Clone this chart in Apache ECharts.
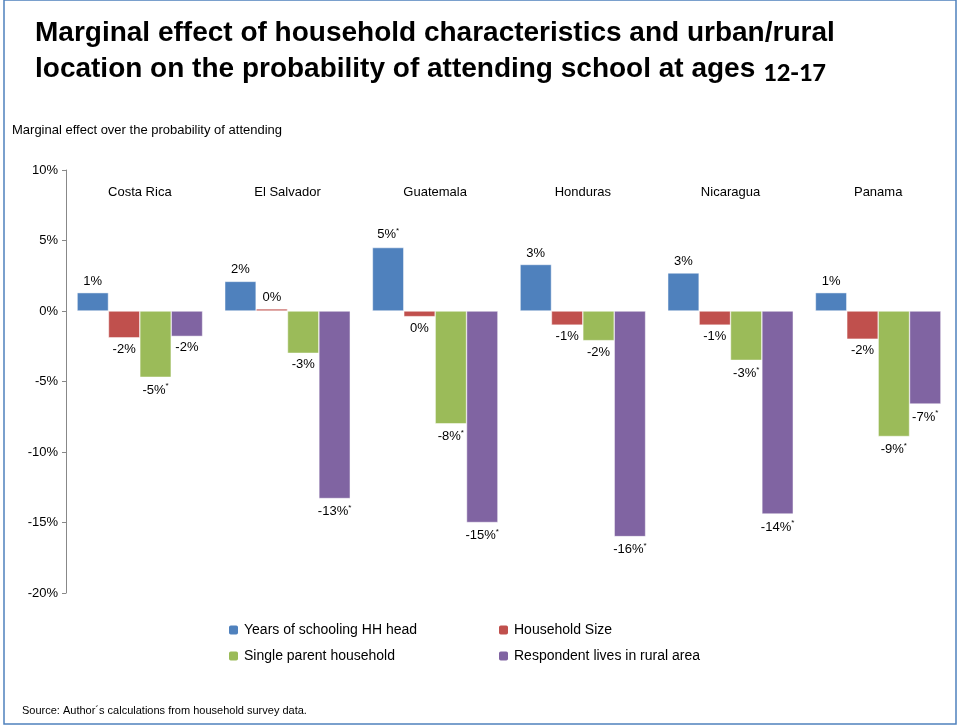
<!DOCTYPE html>
<html><head><meta charset="utf-8">
<script src="https://cdn.jsdelivr.net/npm/echarts@6/dist/echarts.min.js"></script>
<style>html,body{margin:0;padding:0;background:#fff}#c{width:960px;height:725px}</style>
</head><body><div id="c"></div>
<script>
var countries = ['Costa Rica', 'El Salvador', 'Guatemala', 'Honduras', 'Nicaragua', 'Panama'];
var schooling = [1.3, 2.1, 4.5, 3.3, 2.7, 1.3];
var hhSize = [-1.9, 0.15, -0.4, -1.0, -1.0, -2.0];
var singleParent = [-4.7, -3.0, -8.0, -2.1, -3.5, -8.9];
var rural = [-1.8, -13.3, -15.0, -16.0, -14.4, -6.6];
// significance marks shown as small superscript
var sigSchooling = [0, 0, 1, 0, 0, 0];
var sigHh = [0, 0, 0, 0, 0, 0];
var sigSingle = [1, 0, 1, 0, 1, 1];
var sigRural = [0, 1, 1, 1, 1, 1];
var yTicks = [-20, -15, -10, -5, 0, 5, 10];

var myChart = echarts.init(document.getElementById('c'));
var font = 'Arial, "Liberation Sans", sans-serif';

function makeSeries(name, values, sig, color) {
  return {
    name: name,
    type: 'bar',
    barGap: 0,
    barCategoryGap: '15%',
    itemStyle: { color: color, borderColor: '#fff', borderWidth: 0.5 },
    data: values.map(function (v) {
      return { value: v, label: { position: v >= 0 ? 'top' : 'bottom' } };
    }),
    label: {
      show: true,
      fontSize: 13,
      fontFamily: font,
      color: '#000',
      formatter: function (p) {
        var t = Math.round(p.value) + '%';
        if (t === '-0%') t = '0%';
        return sig[p.dataIndex] ? t + '{s|*}' : t;
      },
      rich: { s: { fontSize: 8, verticalAlign: 'top', padding: [0, 0, 8, 0], color: '#000' } }
    }
  };
}

var option = {
  animation: false,
  title: {
    text: 'Marginal effect of household characteristics and urban/rural\nlocation on the probability of attending school at ages {n|12-17}',
    left: 30,
    top: 10,
    textStyle: {
      fontFamily: font,
      fontSize: 28,
      fontWeight: 'bold',
      color: '#000',
      lineHeight: 36,
      rich: { n: { fontFamily: 'Calibri, Carlito, "Open Sans", sans-serif', fontSize: 27, fontWeight: 'bold', padding: [10, 0, 0, 0] } }
    }
  },
  graphic: [
    { type: 'rect', shape: { x: 4, y: 0, width: 952, height: 724 }, style: { fill: 'none', stroke: '#4f81bd', lineWidth: 1.5 }, silent: true },
    { type: 'text', left: 12, top: 124, style: { text: 'Marginal effect over the probability of attending', fontSize: 13, fontFamily: font, fill: '#000' } },
    { type: 'text', left: 22, top: 705, style: { text: 'Source: Author\u00b4s calculations from household survey data.', fontSize: 11, fontFamily: font, fill: '#000' } }
  ],
  legend: [
    { data: ['Years of schooling HH head', 'Single parent household'], orient: 'vertical', left: 222, top: 618, itemWidth: 11, itemHeight: 11, itemGap: 12, textStyle: { fontSize: 14, fontFamily: font, color: '#000' } },
    { data: ['Household Size', 'Respondent lives in rural area'], orient: 'vertical', left: 492, top: 618, itemWidth: 11, itemHeight: 11, itemGap: 12, textStyle: { fontSize: 14, fontFamily: font, color: '#000' } }
  ],
  grid: { left: 66, right: 8, top: 170, bottom: 132 },
  xAxis: {
    type: 'category',
    data: countries,
    position: 'top',
    offset: -37,
    axisLine: { show: false },
    axisTick: { show: false },
    axisLabel: { fontSize: 13, fontFamily: font, color: '#000' }
  },
  yAxis: {
    type: 'value',
    min: -20,
    max: 10,
    interval: 5,
    splitLine: { show: false },
    axisLine: { show: true, lineStyle: { color: '#888' } },
    axisTick: { show: true, length: 4, lineStyle: { color: '#888' } },
    axisLabel: {
      fontSize: 13, fontFamily: font, color: '#000',
      formatter: function (v) { return yTicks.indexOf(v) >= 0 ? v + '%' : ''; }
    }
  },
  series: [
    makeSeries('Years of schooling HH head', schooling, sigSchooling, '#4f81bd'),
    makeSeries('Household Size', hhSize, sigHh, '#c0504d'),
    makeSeries('Single parent household', singleParent, sigSingle, '#9bbb59'),
    makeSeries('Respondent lives in rural area', rural, sigRural, '#8064a2')
  ]
};
myChart.setOption(option);
</script></body></html>
